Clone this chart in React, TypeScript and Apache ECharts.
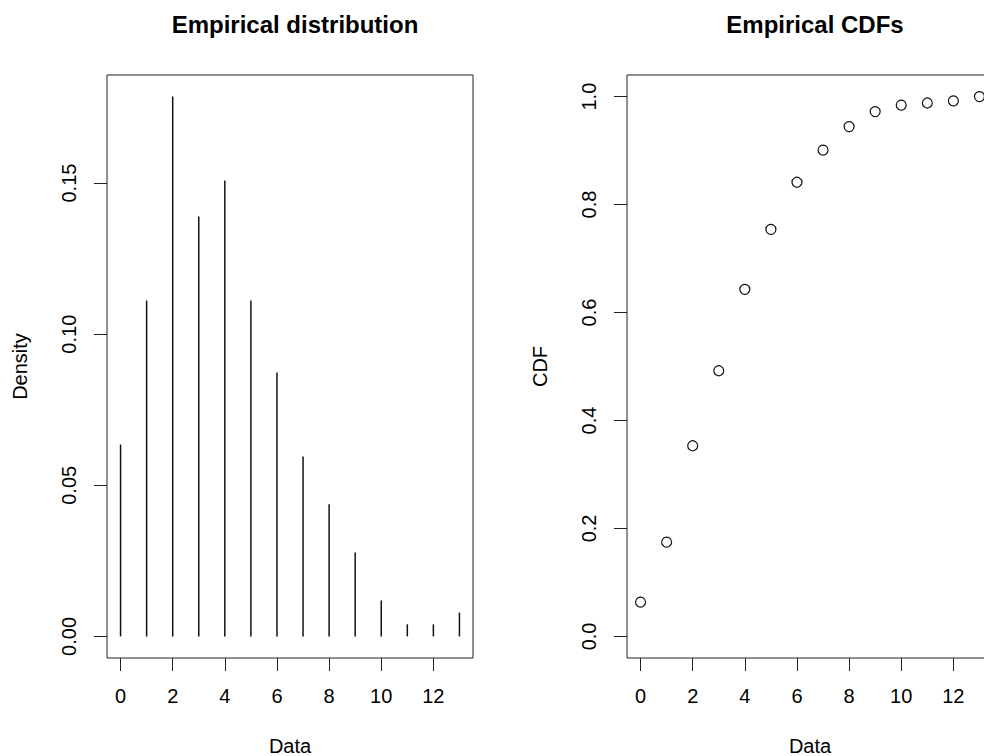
import React, { useEffect, useRef } from "react";
import * as echarts from "echarts";

const xValues = [0, 1, 2, 3, 4, 5, 6, 7, 8, 9, 10, 11, 12, 13];
const density = [0.0635, 0.1111, 0.1786, 0.1389, 0.1508, 0.1111, 0.0873, 0.0595, 0.0437, 0.0278, 0.0119, 0.004, 0.004, 0.0079];
const cdf = [0.0635, 0.1746, 0.3532, 0.4921, 0.6429, 0.754, 0.8413, 0.9008, 0.9444, 0.9722, 0.9841, 0.9881, 0.9921, 1.0];
const xTicks = [0, 2, 4, 6, 8, 10, 12];
const densityTicks = [0, 0.05, 0.1, 0.15];
const cdfTicks = [0, 0.2, 0.4, 0.6, 0.8, 1.0];

const FONT = "Liberation Sans, Arial, Helvetica, sans-serif";

export default function App() {
  const ref = useRef<HTMLDivElement>(null);
  useEffect(() => {
    document.body.style.margin = "0";
    const chart = echarts.init(ref.current!, undefined, { renderer: "svg" });
    const xMin = -0.04 * 13;
    const xMax = 13 * 1.04;
    const dMax = Math.max(...density);
    const axisText = { fontFamily: FONT, fontSize: 20, color: "#000" };
    const tickStyle = { show: true, length: 13, inside: false, lineStyle: { color: "#222", width: 1 } };
    const mkX = (gridIndex: number) => ({
      type: "value",
      gridIndex,
      min: xMin,
      max: xMax,
      name: "Data",
      nameLocation: "middle",
      nameGap: 78,
      nameTextStyle: { ...axisText },
      axisLine: { show: false, onZero: false },
      splitLine: { show: false },
      axisTick: { ...tickStyle, customValues: xTicks },
      axisLabel: { ...axisText, margin: 28, customValues: xTicks, formatter: (v: number) => String(v) },
    });
    const mkY = (gridIndex: number, name: string, min: number, max: number, ticks: number[], digits: number) => ({
      type: "value",
      gridIndex,
      min,
      max,
      name,
      nameLocation: "middle",
      nameRotate: 90,
      nameGap: 77,
      nameTextStyle: { ...axisText },
      axisLine: { show: false, onZero: false },
      splitLine: { show: false },
      axisTick: { ...tickStyle, customValues: ticks },
      axisLabel: { ...axisText, rotate: 90, margin: 28, customValues: ticks, formatter: (v: number) => v.toFixed(digits) },
    });
    const option = {
      animation: false,
      backgroundColor: "#fff",
      title: [
        {
          text: "Empirical distribution",
          left: 290,
          top: 7,
          textAlign: "center",
          textStyle: { fontFamily: FONT, fontSize: 24, fontWeight: "bold", color: "#000" },
        },
        {
          text: "Empirical CDFs",
          left: 810,
          top: 7,
          textAlign: "center",
          textStyle: { fontFamily: FONT, fontSize: 24, fontWeight: "bold", color: "#000" },
        },
      ],
      grid: [
        { left: 107, top: 75, width: 366, height: 583, outerBoundsMode: "none", containLabel: false, show: true, borderColor: "#222", borderWidth: 1, backgroundColor: "transparent" },
        { left: 627, top: 75, width: 366, height: 583, outerBoundsMode: "none", containLabel: false, show: true, borderColor: "#222", borderWidth: 1, backgroundColor: "transparent" },
      ],
      xAxis: [mkX(0), mkX(1)],
      yAxis: [
        mkY(0, "Density", -0.04 * dMax, dMax * 1.04, densityTicks, 2),
        mkY(1, "CDF", -0.04, 1.04, cdfTicks, 1),
      ],
      series: [
        {
          type: "custom",
          xAxisIndex: 0,
          yAxisIndex: 0,
          data: xValues.map((x, i) => [x, density[i]]),
          renderItem: (_params: any, api: any) => {
            const p0 = api.coord([api.value(0), 0]);
            const p1 = api.coord([api.value(0), api.value(1)]);
            return {
              type: "line",
              shape: { x1: p0[0], y1: p0[1], x2: p1[0], y2: p1[1] },
              style: { stroke: "#111", lineWidth: 1.5 },
            };
          },
        },
        {
          type: "scatter",
          xAxisIndex: 1,
          yAxisIndex: 1,
          symbol: "circle",
          symbolSize: 10,
          itemStyle: { color: "rgba(0,0,0,0)", borderColor: "#111", borderWidth: 1.2, opacity: 1 },
          data: xValues.map((x, i) => [x, cdf[i]]),
        },
      ],
    };
    chart.setOption(option as any);
    return () => chart.dispose();
  }, []);
  return <div ref={ref} style={{ width: 984, height: 756, position: "absolute", left: 0, top: 0 }} />;
}
